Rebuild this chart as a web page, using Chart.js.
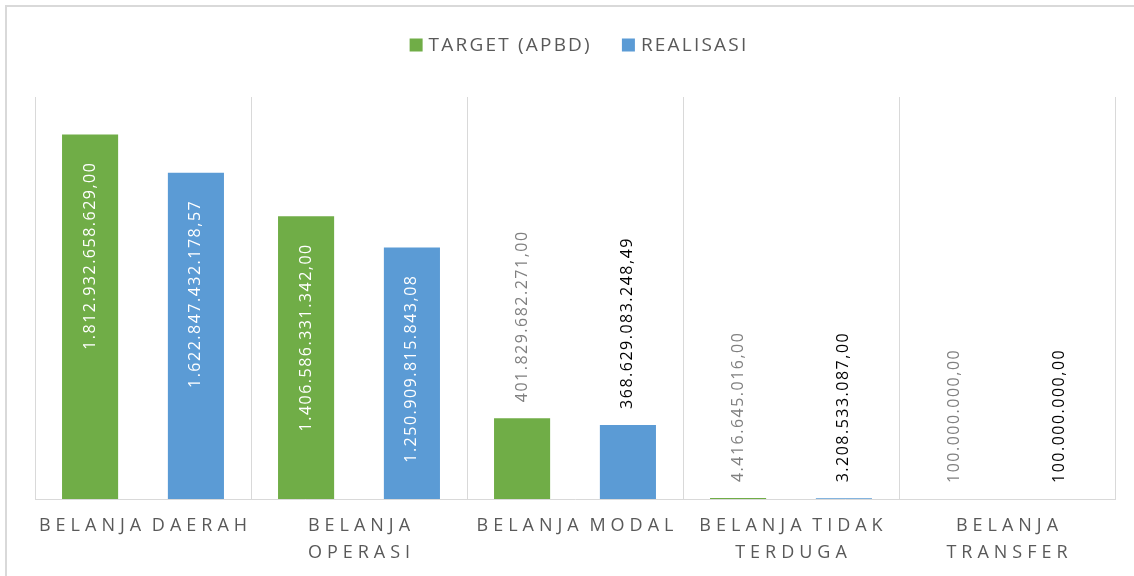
<!DOCTYPE html>
<html>
<head>
<meta charset="utf-8">
<script src="https://cdn.jsdelivr.net/npm/chart.js@4/dist/chart.umd.min.js"></script>
<style>
  html, body { margin: 0; padding: 0; background: #fff; }
</style>
</head>
<body>
<canvas id="belanjaChart" width="1134" height="576"></canvas>
<script>
// data
const categories = [
    ['BELANJA DAERAH'],
    ['BELANJA', 'OPERASI'],
    ['BELANJA MODAL'],
    ['BELANJA TIDAK', 'TERDUGA'],
    ['BELANJA', 'TRANSFER']
];
const seriesNames = ['TARGET (APBD)', 'REALISASI'];
const targetValues = [1812932658629.00, 1406586331342.00, 401829682271.00, 4416645016.00, 100000000.00];
const realisasiValues = [1622847432178.57, 1250909815843.08, 368629083248.49, 3208533087.00, 100000000.00];
const yMax = 2000000000000;

const seriesColors = ['#70AD47', '#5B9BD5'];
const outsideLabelColors = ['#808080', '#000000'];
const textGray = '#595959';
const lineGray = '#d9d9d9';
const fontFamily = '"Open Sans", "DejaVu Sans", sans-serif';

function formatRupiah(value) {
    const [intPart, decPart] = value.toFixed(2).split('.');
    return intPart.replace(/\B(?=(\d{3})+(?!\d))/g, '.') + ',' + decPart;
}

// white background + the thin frame at top / left
const framePlugin = {
    id: 'frame',
    beforeDraw(chart) {
        const ctx = chart.ctx;
        ctx.save();
        ctx.fillStyle = '#fff';
        ctx.fillRect(0, 0, chart.width, chart.height);
        ctx.strokeStyle = lineGray;
        ctx.lineWidth = 2;
        ctx.beginPath();
        ctx.moveTo(6, chart.height);
        ctx.lineTo(6, 6);
        ctx.lineTo(chart.width, 6);
        ctx.stroke();
        ctx.restore();
    }
};

// legend drawn by hand so letter spacing can match
const legendPlugin = {
    id: 'spacedLegend',
    afterDraw(chart) {
        const ctx = chart.ctx;
        const area = chart.chartArea;
        ctx.save();
        ctx.font = '19px ' + fontFamily;
        ctx.letterSpacing = '2.2px';
        const box = 13, boxGap = 6, itemGap = 30;
        const widths = chart.data.datasets.map(ds => ctx.measureText(ds.label).width);
        const total = widths.reduce((a, w) => a + box + boxGap + w, 0) + itemGap * (widths.length - 1);
        let x = (area.left + area.right) / 2 + 4 - total / 2;
        const y = 45;
        chart.data.datasets.forEach((ds, i) => {
            ctx.fillStyle = ds.backgroundColor;
            ctx.fillRect(x, y - box / 2, box, box);
            x += box + boxGap;
            ctx.fillStyle = textGray;
            ctx.textAlign = 'left';
            ctx.textBaseline = 'middle';
            ctx.fillText(ds.label, x, y + 1);
            x += widths[i] + itemGap;
        });
        ctx.restore();
    }
};

// category labels under the axis, widely letter spaced
const categoryLabelPlugin = {
    id: 'categoryLabels',
    afterDraw(chart) {
        const ctx = chart.ctx;
        const scale = chart.scales.x;
        const spacing = 5;
        ctx.save();
        ctx.font = '18px ' + fontFamily;
        ctx.letterSpacing = spacing + 'px';
        ctx.wordSpacing = '-4px';
        ctx.fillStyle = textGray;
        ctx.textAlign = 'center';
        ctx.textBaseline = 'middle';
        chart.data.labels.forEach((lines, i) => {
            const x = scale.getPixelForValue(i) + spacing / 2;
            lines.forEach((line, k) => {
                ctx.fillText(line, x, chart.chartArea.bottom + 27 + k * 27);
            });
        });
        ctx.restore();
    }
};

// rotated value labels: inside the bar near its top, or above it when it is short
const valueLabelPlugin = {
    id: 'valueLabels',
    afterDatasetsDraw(chart) {
        const ctx = chart.ctx;
        ctx.save();
        ctx.font = '16px ' + fontFamily;
        ctx.letterSpacing = '1.5px';
        ctx.textBaseline = 'middle';
        chart.data.datasets.forEach((ds, i) => {
            const meta = chart.getDatasetMeta(i);
            meta.data.forEach((bar, j) => {
                const text = formatRupiah(ds.data[j]);
                const w = ctx.measureText(text).width;
                const h = bar.base - bar.y;
                ctx.save();
                if (h > w + 50) {
                    ctx.translate(bar.x, bar.y + 27);
                    ctx.rotate(-Math.PI / 2);
                    ctx.textAlign = 'right';
                    ctx.fillStyle = '#ffffff';
                } else {
                    ctx.translate(bar.x, bar.y - 16);
                    ctx.rotate(-Math.PI / 2);
                    ctx.textAlign = 'left';
                    ctx.fillStyle = outsideLabelColors[i];
                }
                ctx.fillText(text, 0, 0);
                ctx.restore();
            });
        });
        ctx.restore();
    }
};

const ctx = document.getElementById('belanjaChart').getContext('2d');
const belanjaChart = new Chart(ctx, {
    type: 'bar',
    data: {
        labels: categories,
        datasets: [{
            label: seriesNames[0],
            data: targetValues,
            backgroundColor: seriesColors[0],
            categoryPercentage: 0.98,
            barPercentage: 0.53
        }, {
            label: seriesNames[1],
            data: realisasiValues,
            backgroundColor: seriesColors[1],
            categoryPercentage: 0.98,
            barPercentage: 0.53
        }]
    },
    options: {
        responsive: false,
        animation: false,
        layout: {
            padding: { left: 35, top: 97, right: 19, bottom: 77 }
        },
        plugins: {
            legend: { display: false },
            tooltip: { enabled: false }
        },
        scales: {
            x: {
                grid: {
                    color: lineGray,
                    offset: true,
                    drawTicks: false
                },
                border: { color: lineGray },
                ticks: { display: false }
            },
            y: {
                display: false,
                min: 0,
                max: yMax
            }
        }
    },
    plugins: [framePlugin, valueLabelPlugin, categoryLabelPlugin, legendPlugin]
});
</script>
</body>
</html>
